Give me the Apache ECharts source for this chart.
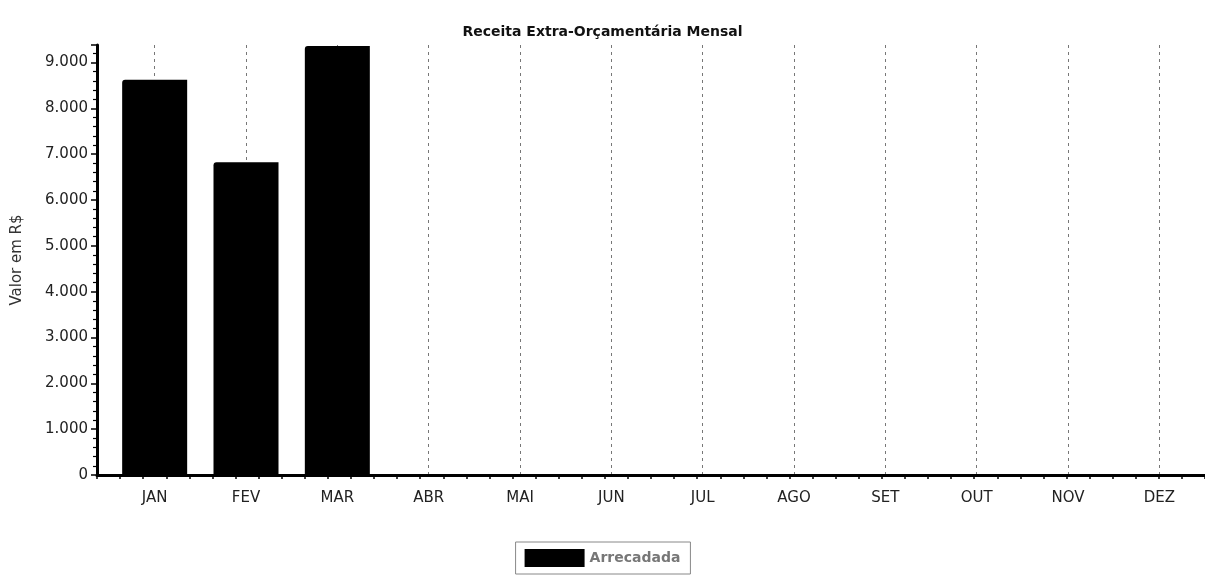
<!DOCTYPE html>
<html><head><meta charset="utf-8">
<script src="https://cdn.jsdelivr.net/npm/echarts@6/dist/echarts.min.js"></script>
<style>html,body{margin:0;padding:0;background:#fff}#c{width:1205px;height:577px}</style>
</head><body><div id="c"></div>
<script>
const categories = ['JAN','FEV','MAR','ABR','MAI','JUN','JUL','AGO','SET','OUT','NOV','DEZ'];
const arrecadada = [8620, 6820, 9360, null, null, null, null, null, null, null, null, null];
const yTickLabels = ['0','1.000','2.000','3.000','4.000','5.000','6.000','7.000','8.000','9.000'];
const titleText = 'Receita Extra-Orçamentária Mensal';
const seriesName = 'Arrecadada';
const yName = 'Valor em R$';
const yMax = 9380;

const chart = echarts.init(document.getElementById('c'));
chart.setOption({
  backgroundColor: '#fff',
  animation: false,
  textStyle: { fontFamily: 'DejaVu Sans, Arial, sans-serif' },
  title: { text: titleText, left: 'center', top: 20,
    textStyle: { fontSize: 14, fontWeight: 'bold', color: '#111', fontFamily: 'DejaVu Sans' } },
  legend: { data: [seriesName], bottom: 3, left: 'center', icon: 'rect',
    itemWidth: 60, itemHeight: 18, itemGap: 4, padding: [7, 10, 7, 9],
    borderColor: '#888', borderWidth: 1,
    textStyle: { fontSize: 14, color: '#777', fontWeight: 'bold' } },
  grid: [
    { left: 109, right: -9, top: 45, bottom: 102 },
    { left: 97, right: -9, top: 45, bottom: 102 }
  ],
  xAxis: [{
    type: 'category', data: categories, gridIndex: 0,
    axisLine: { show: false },
    axisTick: { alignWithLabel: true, length: 7, lineStyle: { color: '#000', width: 2 } },
    axisLabel: { fontSize: 15, color: '#222', margin: 16 },
    splitLine: { show: true, alignWithLabel: true, lineStyle: { color: '#777', type: [3, 4], width: 1 } }
  }, {
    type: 'value', gridIndex: 1, min: 0, max: 48, interval: 1, position: 'bottom',
    axisLine: { show: true, onZero: false, lineStyle: { color: '#000', width: 3 } },
    axisLabel: { show: false }, splitLine: { show: false },
    axisTick: { show: true, length: 4, lineStyle: { color: '#000', width: 1.5 } }
  }],
  yAxis: [{
    type: 'value', gridIndex: 0, min: 0, max: yMax, show: false, splitLine: { show: false }
  }, {
    type: 'value', gridIndex: 1, min: 0, max: yMax, interval: 1000,
    name: yName, nameLocation: 'middle', nameGap: 72,
    nameTextStyle: { fontSize: 15, color: '#333' },
    axisLine: { show: true, onZero: false, lineStyle: { color: '#000', width: 3 } },
    axisTick: { show: true, length: 6, lineStyle: { color: '#000', width: 1.5 } },
    minorTick: { show: true, splitNumber: 5, length: 4, lineStyle: { color: '#000', width: 1.2 } },
    axisLabel: { fontSize: 15, color: '#222', margin: 9, showMaxLabel: false,
      formatter: v => yTickLabels[v / 1000] !== undefined ? yTickLabels[v / 1000] : '' },
    splitLine: { show: false }
  }],
  series: [{
    name: seriesName, type: 'bar', data: arrecadada, barWidth: 65,
    xAxisIndex: 0, yAxisIndex: 0,
    itemStyle: { color: '#000', borderRadius: [3, 0, 0, 0] }
  }]
});
</script></body></html>
